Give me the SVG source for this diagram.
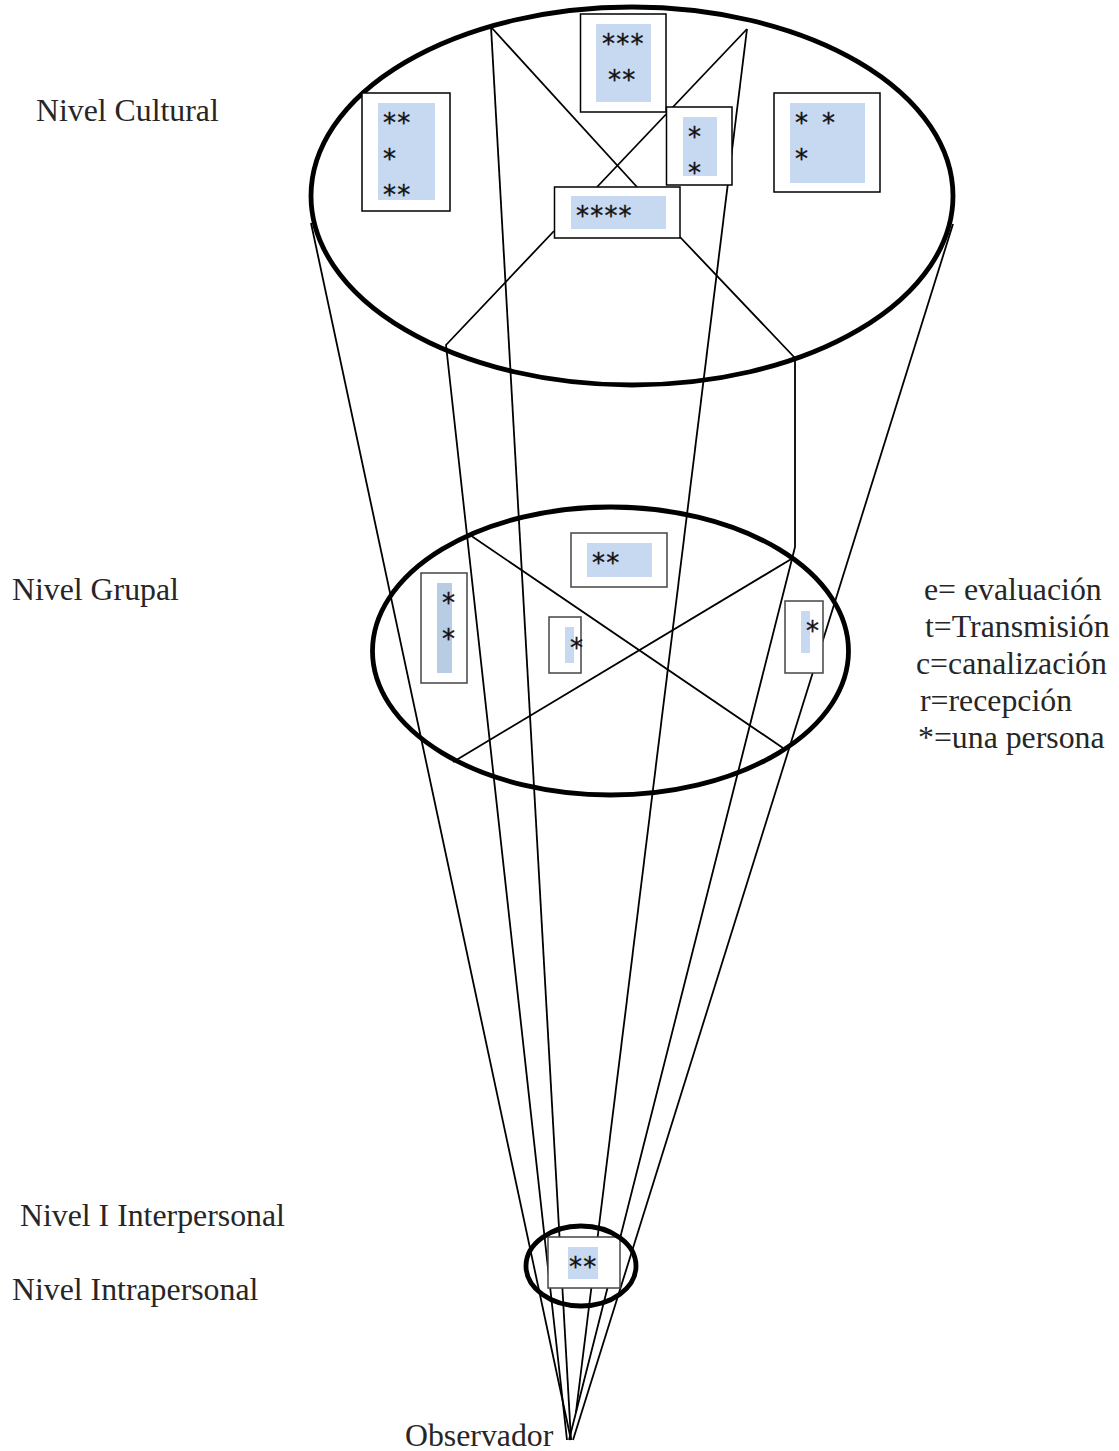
<svg xmlns="http://www.w3.org/2000/svg" width="1119" height="1451" viewBox="0 0 1119 1451">
<style>
.lbl{font-family:"Liberation Serif","Times New Roman",serif;font-size:31.8px;fill:#262626}
.st{font-family:"DejaVu Sans",sans-serif;font-size:26px;letter-spacing:1.2px;fill:#111;stroke:#111;stroke-width:0.3}
.ln{fill:none;stroke:#000;stroke-width:1.8;stroke-linejoin:round}
.ell{fill:none;stroke:#000;stroke-width:4.8}
.box{fill:#fff;stroke:#000;stroke-width:1.5}
.box2{fill:#fff;stroke:#444;stroke-width:1.5}
.in{fill:#c6d9f0}
.in2{fill:#b8cce4}
</style>
<rect width="1119" height="1451" fill="#fff"/>
<g id="connectors">
<polyline class="ln" points="311,223 571,1440"/>
<polyline class="ln" points="953,224 573,1440"/>
<polyline class="ln" points="491,27 571,1440"/>
<polyline class="ln" points="747,29 576,1412"/>
<polyline class="ln" points="491,27 637,187"/>
<polyline class="ln" points="747,29 597,187"/>
<polyline class="ln" points="554,231 446,345 567,1440"/>
<polyline class="ln" points="680,237 795,358 795,547 569,1440"/>
<polyline class="ln" points="470,535 783,748"/>
<polyline class="ln" points="453,762 793,558"/>
</g>
<g id="nivel-cultural">
<ellipse class="ell" cx="632" cy="196" rx="321" ry="189"/>
</g>
<g id="box-c1"><rect class="box" x="362" y="93" width="88" height="118"/><rect class="in" x="378" y="103" width="57" height="97"/>
<text class="st" x="383" y="132">**</text><text class="st" x="383" y="168">*</text><text class="st" x="383" y="204">**</text></g>
<g id="box-c2"><rect class="box" x="580.5" y="14" width="85.5" height="98"/><rect class="in" x="596" y="24" width="55" height="78"/>
<text class="st" x="602" y="53">***</text><text class="st" x="608" y="89">**</text></g>
<g id="box-c3"><rect class="box" x="666.5" y="107" width="65.5" height="78"/><rect class="in" x="683" y="117" width="34" height="59"/>
<text class="st" x="688" y="146">*</text><text class="st" x="688" y="182">*</text></g>
<g id="box-c4"><rect class="box" x="774" y="93" width="106" height="99"/><rect class="in" x="790" y="103" width="75" height="80"/>
<text class="st" x="795" y="132">*</text><text class="st" x="822" y="132">*</text><text class="st" x="795" y="168">*</text></g>
<g id="box-c5"><rect class="box" x="554.5" y="187" width="125.5" height="51"/><rect class="in" x="571" y="196" width="95" height="33"/>
<text class="st" x="576" y="225">****</text></g>
<g id="nivel-grupal">
<ellipse class="ell" cx="610.5" cy="651" rx="238" ry="144"/>
</g>
<g id="box-g1"><rect class="box2" x="421" y="573" width="46" height="110"/><rect class="in2" x="437" y="583" width="15" height="90"/>
<text class="st" x="442" y="612">*</text><text class="st" x="442" y="648">*</text></g>
<g id="box-g2"><rect class="box2" x="571" y="533" width="96" height="54"/><rect class="in" x="587" y="543" width="65" height="34"/>
<text class="st" x="592" y="572">**</text></g>
<g id="box-g3"><rect class="box2" x="549" y="617" width="32" height="56"/><rect class="in" x="565" y="627" width="9" height="36"/>
<text class="st" x="570" y="657">*</text></g>
<g id="box-g4"><rect class="box2" x="785" y="601" width="38" height="72"/><rect class="in" x="801" y="611" width="9" height="42"/>
<text class="st" x="806" y="640">*</text></g>
<g id="box-i1"><rect class="box2" x="548" y="1237" width="72" height="51"/><rect class="in" x="568" y="1247" width="30" height="32"/>
<text class="st" x="569" y="1276">**</text></g>
<g id="nivel-interpersonal">
<ellipse class="ell" cx="581" cy="1266" rx="55" ry="40"/>
</g>
<g id="labels">
<text class="lbl" x="36" y="121">Nivel Cultural</text>
<text class="lbl" x="12" y="600">Nivel Grupal</text>
<text class="lbl" x="20" y="1226">Nivel I Interpersonal</text>
<text class="lbl" x="12" y="1300">Nivel Intrapersonal</text>
<text class="lbl" x="405" y="1446">Observador</text>
</g>
<g id="legend">
<text class="lbl" x="924" y="600">e= evaluación</text>
<text class="lbl" x="925" y="637">t=Transmisión</text>
<text class="lbl" x="916" y="674">c=canalización</text>
<text class="lbl" x="920" y="711">r=recepción</text>
<text class="lbl" x="918" y="748">*=una persona</text>
</g>
</svg>
